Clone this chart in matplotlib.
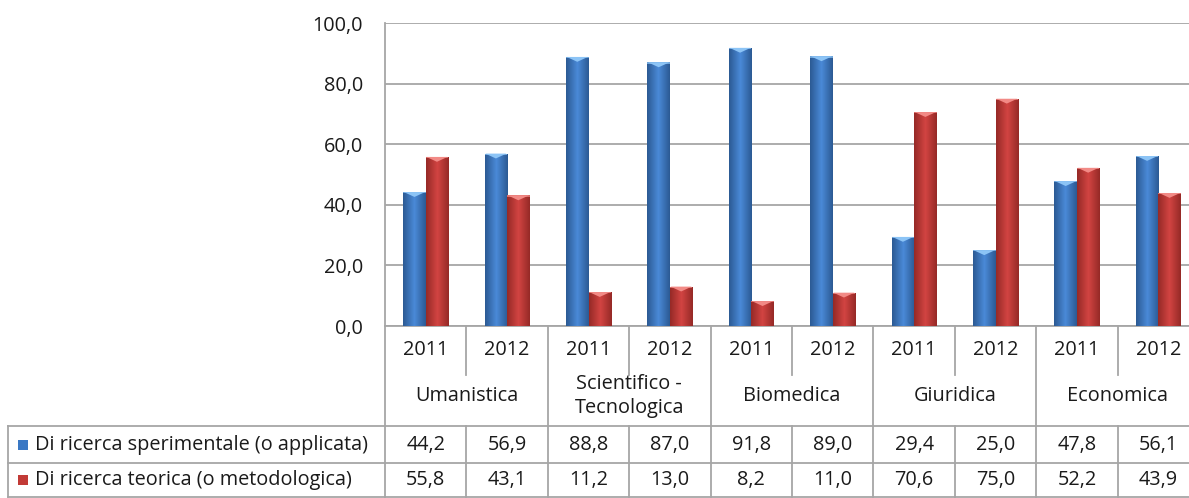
import numpy as np
import matplotlib
matplotlib.use('Agg')
import matplotlib.pyplot as plt
from matplotlib.patches import Polygon, Rectangle
from matplotlib.lines import Line2D
from matplotlib.colors import LinearSegmentedColormap
import matplotlib.transforms as mtransforms

plt.rcParams['font.family'] = ['Open Sans', 'DejaVu Sans']

areas = ['Umanistica', 'Scientifico -\nTecnologica', 'Biomedica', 'Giuridica', 'Economica']
years = ['2011', '2012']
series_names = ['Di ricerca sperimentale (o applicata)', 'Di ricerca teorica (o metodologica)']
sperimentale = [44.2, 56.9, 88.8, 87.0, 91.8, 89.0, 29.4, 25.0, 47.8, 56.1]
teorica = [55.8, 43.1, 11.2, 13.0, 8.2, 11.0, 70.6, 75.0, 52.2, 43.9]
yticks = [0, 20, 40, 60, 80, 100]

W, H = 1189, 498
fs = 14.3
fig = plt.figure(figsize=(W / 100, H / 100), dpi=100)
ax = fig.add_axes([385 / W, 1 - 326 / H, 814 / W, 303 / H])

n = len(sperimentale)
x = np.arange(n)
bw = 0.276

styles = [
    ('#3a78c4', ['#2c5a94', '#4a8ad8', '#2c5a94'], '#8cc4f6'),
    ('#c23a36', ['#962a27', '#d24442', '#962a27'], '#f28a86'),
]
grid_col = '#a6a6a6'

for i, vals in enumerate([sperimentale, teorica]):
    base, grad, top = styles[i]
    cmap = LinearSegmentedColormap.from_list('g%d' % i, grad)
    offs = (-0.5 + i) * bw
    bars = ax.bar(x + offs, vals, width=bw, color=base, zorder=3)
    for b in bars:
        x0, w, h = b.get_x(), b.get_width(), b.get_height()
        img = ax.imshow(np.linspace(0, 1, 50).reshape(1, -1), cmap=cmap,
                        extent=(x0, x0 + w, 0, h), aspect='auto', zorder=3.5)
        img.set_clip_path(b)
        ax.add_patch(Polygon([(x0 + 0.03 * w, h), (x0 + 0.97 * w, h), (x0 + w / 2, h - 1.6)],
                             closed=True, facecolor=top, edgecolor='none', zorder=4))
        ax.add_patch(Rectangle((x0, h - 0.4), w, 0.4, facecolor=top, edgecolor='none', zorder=4, alpha=0.7))

ax.set_xlim(-0.5, n - 0.5)
ax.set_ylim(0, 100)
ax.set_yticks(yticks)
ax.set_yticklabels([('%.1f' % v).replace('.', ',') for v in yticks], fontsize=fs, color='#1a1a1a')
ax.tick_params(axis='y', length=0, pad=16)
ax.set_xticks([])
ax.yaxis.grid(True, color=grid_col, lw=1.3, zorder=0)
for s in ['top', 'right']:
    ax.spines[s].set_visible(False)
for s in ['left', 'bottom']:
    ax.spines[s].set_color(grid_col)
    ax.spines[s].set_linewidth(1.3)

# data table below the plot
tr = mtransforms.blended_transform_factory(ax.transData, fig.transFigure)
def fy(p):
    return 1 - p / H

line_kw = dict(color=grid_col, lw=1.3)
txt_kw = dict(fontsize=fs, color='#1a1a1a', ha='center', va='center')

y_axis, y_hdr_short, y_hdr, y_r1, y_bot = 326, 375, 426, 463, 497
bounds = np.arange(n + 1) - 0.5
for k, b in enumerate(bounds):
    if k % 2 == 0:
        fig.add_artist(Line2D([b, b], [fy(y_axis), fy(y_bot)], transform=tr, **line_kw))
    else:
        fig.add_artist(Line2D([b, b], [fy(y_axis), fy(y_hdr_short)], transform=tr, **line_kw))
        fig.add_artist(Line2D([b, b], [fy(y_hdr), fy(y_bot)], transform=tr, **line_kw))

for yy in [y_hdr, y_r1, y_bot]:
    fig.add_artist(Line2D([8 / W, 1], [fy(yy), fy(yy)], transform=fig.transFigure, **line_kw))
fig.add_artist(Line2D([8 / W, 8 / W], [fy(y_hdr), fy(y_bot)], transform=fig.transFigure, **line_kw))

for j in range(n):
    fig.text(j, fy(350), years[j % 2], transform=tr, **txt_kw)
for a, name in enumerate(areas):
    fig.text(2 * a + 0.5, fy(396), name, transform=tr, linespacing=1.3, **txt_kw)

rows = [sperimentale, teorica]
row_y = [(y_hdr + y_r1) / 2, (y_r1 + y_bot) / 2]
for r, vals in enumerate(rows):
    for j, v in enumerate(vals):
        fig.text(j, fy(row_y[r]), ('%.1f' % v).replace('.', ','), transform=tr, **txt_kw)
    fig.add_artist(Rectangle((18 / W, fy(row_y[r] + 5)), 10 / W, 10 / H,
                             transform=fig.transFigure, facecolor=styles[r][0], edgecolor='none'))
    fig.text(35 / W, fy(row_y[r]), series_names[r], fontsize=fs, color='#1a1a1a',
             ha='left', va='center')

fig.savefig('out.png', dpi=100)
